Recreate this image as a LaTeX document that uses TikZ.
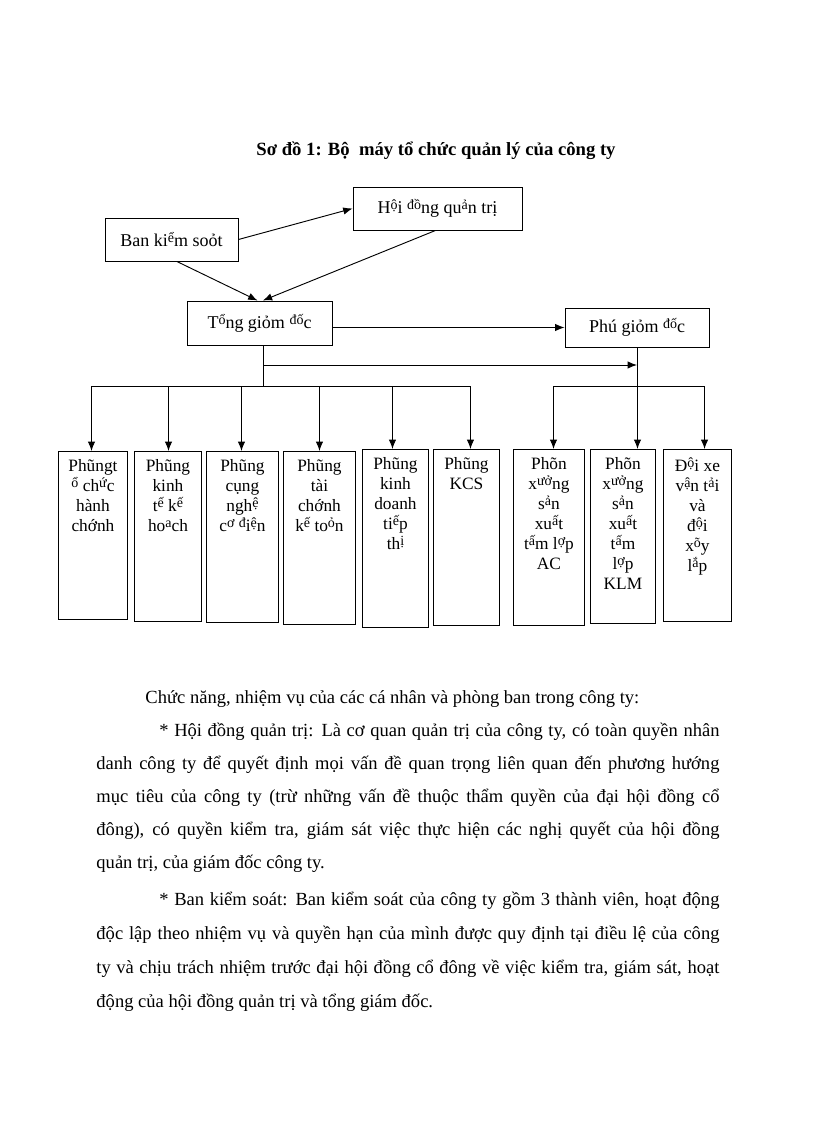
\documentclass[tikz,border=0pt]{standalone}
\usepackage{fontspec}
\setmainfont{Liberation Serif}
\usetikzlibrary{arrows.meta}
\newlength\boxpad
\setlength\boxpad{6pt}
\newcommand\lift[1]{\raisebox{0.5ex}{\fontsize{10.5}{11}\selectfont #1}}
\newcommand\deptbox[3]{\parbox[t][#2][t]{#1}{\centering\vspace*{\boxpad}#3}}

\begin{document}
\begin{tikzpicture}[x=0.75pt,y=-0.75pt,line width=0.7pt,
  >={Latex[length=7pt,width=5.5pt]},
  topbox/.style={draw,minimum height=32.25pt,inner sep=0pt,font=\fontsize{13.5}{16}\selectfont},
  dept/.style={draw,anchor=north west,inner sep=0pt,font=\fontsize{13}{15}\selectfont},
  bodyline/.style={anchor=base west,inner sep=0pt,font=\fontsize{13.9}{16}\selectfont}]
  \useasboundingbox (0,0) rectangle (816,1123);
  \node[anchor=base,font=\fontsize{14}{17}\selectfont\bfseries] at (436,156) (title) {Sơ đồ 1: Bộ\ \ máy tổ chức quản lý của công ty};
  \node[topbox,minimum width=99.75pt] at (171.5,239.5) (bks) {Ban ki\lift{ể}m soỏt};
  \node[topbox,minimum width=126.75pt] at (437.5,208.5) (hdqt) {H\lift{ộ}i \lift{đồ}ng qu\lift{ả}n trị};
  \node[topbox,minimum width=108.75pt,minimum height=33pt] at (259.5,323) (tgd) {T\lift{ổ}ng giỏm \lift{đố}c};
  \node[topbox,minimum width=108pt,minimum height=29.25pt] at (637,327.5) (pgd) {Phú giỏm \lift{đố}c};
  \node[dept] at (58,451) (pto) {\deptbox{51.75pt}{126pt}{Phũngt\\\lift{ổ} ch\lift{ứ}c\\hành\\chớnh}};
  \node[dept] at (134,451) (pkt) {\deptbox{50.25pt}{127.5pt}{Phũng\\kinh\\t\lift{ế} k\lift{ế}\\ho\lift{a}ch}};
  \node[dept] at (206,451) (pcn) {\deptbox{54pt}{128.25pt}{Phũng\\cụng\\ngh\lift{ệ}\\c\lift{ơ} \lift{đ}i\lift{ệ}n}};
  \node[dept] at (283,451) (ptc) {\deptbox{54pt}{129.75pt}{Phũng\\tài\\chớnh\\k\lift{ế} to\lift{ỏ}n}};
  \node[dept] at (362,449) (pkd) {\deptbox{49.5pt}{133.5pt}{Phũng\\kinh\\doanh\\ti\lift{ế}p\\th\lift{ị}}};
  \node[dept] at (433,449) (pkcs) {\deptbox{49.5pt}{132pt}{Phũng\\KCS}};
  \node[dept] at (513,449) (xac) {\deptbox{53.25pt}{132pt}{Phõn\\x\lift{ưở}ng\\s\lift{ả}n\\xu\lift{ấ}t\\t\lift{ấ}m l\lift{ợ}p\\AC}};
  \node[dept] at (590,449) (xklm) {\deptbox{48.75pt}{130.5pt}{Phõn\\x\lift{ưở}ng\\s\lift{ả}n\\xu\lift{ấ}t\\t\lift{ấ}m\\l\lift{ợ}p\\KLM}};
  \node[dept] at (663,449) (dxe) {\deptbox{51pt}{129pt}{Đ\lift{ộ}i xe\\v\lift{ậ}n t\lift{ả}i\\và\\đ\lift{ộ}i\\x\lift{õ}y\\l\lift{ắ}p}};
  \coordinate (lbus) at (263,386);
  \coordinate (rbus) at (637,386);
  \coordinate (lmid) at (263,365);
  \coordinate (rmid) at (637,365);
  \draw[->] (bks.east) -- (hdqt.west);
  \draw[->] ([xshift=4pt]bks.south) -- ([xshift=-1.5pt]tgd.north);
  \draw[->] ([xshift=-1.5pt]hdqt.south) -- ([xshift=2.5pt]tgd.north);
  \draw[->] (tgd.east |- pgd.west) -- (pgd.west);
  \draw (tgd.south -| lbus) -- (lbus);
  \draw[->] (lmid) -- (rmid);
  \draw (pgd.south) -- (rbus);
  \draw ([xshift=-1.1pt]pto.north |- lbus) -- ([xshift=3pt]pkcs.north |- lbus);
  \draw ([xshift=3.4pt]xac.north |- rbus) -- ([xshift=5.3pt]dxe.north |- rbus);
  \foreach \b/\dx/\bus in {pto/-1.1/lbus,pkt/0.4/lbus,pcn/-0.75/lbus,ptc/0/lbus,pkd/-2.25/lbus,pkcs/3/lbus,xac/3.4/rbus,xklm/10.9/rbus,dxe/5.3/rbus}
    \draw[->] ([xshift=\dx pt]\b.north |- \bus) -- ([xshift=\dx pt]\b.north);
  \node[bodyline] at (145,703) (l1) {Chức năng, nhiệm vụ của các cá nhân và phòng ban trong công ty:};
  \node[bodyline] at (159,736) (l2) {\makebox[420pt][s]{* Hội đồng quản trị: Là cơ quan quản trị của công ty, có toàn quyền nhân}};
  \node[bodyline] at (96,769) (l3) {\makebox[467.25pt][s]{danh công ty để quyết định mọi vấn đề quan trọng liên quan đến phương hướng}};
  \node[bodyline] at (96,802) (l4) {\makebox[467.25pt][s]{mục tiêu của công ty (trừ những vấn đề thuộc thẩm quyền của đại hội đồng cổ}};
  \node[bodyline] at (96,835) (l5) {\makebox[467.25pt][s]{đông), có quyền kiểm tra, giám sát việc thực hiện các nghị quyết của hội đồng}};
  \node[bodyline] at (96,868) (l6) {quản trị, của giám đốc công ty.};
  \node[bodyline] at (159,905) (l7) {\makebox[420pt][s]{* Ban kiểm soát: Ban kiểm soát của công ty gồm 3 thành viên, hoạt động}};
  \node[bodyline] at (96,939) (l8) {\makebox[467.25pt][s]{độc lập theo nhiệm vụ và quyền hạn của mình được quy định tại điều lệ của công}};
  \node[bodyline] at (96,973) (l9) {\makebox[467.25pt][s]{ty và chịu trách nhiệm trước đại hội đồng cổ đông về việc kiểm tra, giám sát, hoạt}};
  \node[bodyline] at (96,1007) (l10) {động của hội đồng quản trị và tổng giám đốc.};
\end{tikzpicture}
\end{document}
